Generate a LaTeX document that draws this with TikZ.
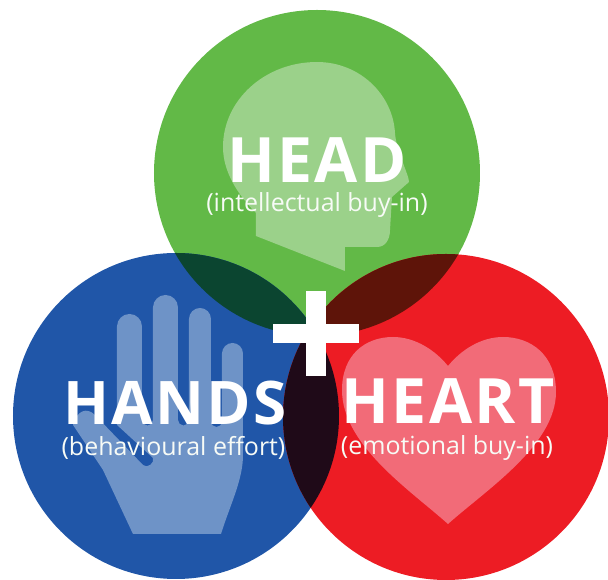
\documentclass[tikz,border=0pt]{standalone}
\usepackage{fontspec}
\setmainfont{Open Sans}
\newfontfamily\titlefont[LetterSpace=4.0]{Open Sans}
\usepackage{tikz}

\definecolor{headgreen}{HTML}{62B947}
\definecolor{handsblue}{HTML}{2056A8}
\definecolor{heartred}{HTML}{ED1C24}
\definecolor{greenblue}{HTML}{0B4530}
\definecolor{greenred}{HTML}{5E1409}
\definecolor{bluered}{HTML}{1F0A18}
\definecolor{headpale}{HTML}{9BD18A}
\definecolor{handspale}{HTML}{6E93C7}
\definecolor{heartpale}{HTML}{F26B78}

\tikzset{
    titletext/.style={text=white, inner sep=0pt, anchor=base, font=\titlefont\bfseries\fontsize{17.8}{20}\selectfont},
    subtext/.style={text=white!92!headpale, inner sep=0pt, anchor=base, font=\fontsize{7.1}{9}\selectfont}
}

\begin{document}
\begin{tikzpicture}
    \useasboundingbox (0, 0) rectangle (6.08, 5.80);

    \fill[headgreen] (3.17, 4.07) circle (1.63);
    \fill[handsblue] (1.76, 1.64) circle (1.63);
    \fill[heartred] (4.46, 1.63) circle (1.63);

    % overlaps
    \begin{scope}
        \clip (3.17, 4.07) circle (1.63);
        \fill[greenblue] (1.76, 1.64) circle (1.63);
        \fill[greenred] (4.46, 1.63) circle (1.63);
    \end{scope}
    \begin{scope}
        \clip (1.76, 1.64) circle (1.63);
        \fill[bluered] (4.46, 1.63) circle (1.63);
    \end{scope}

    % head
    \fill[headpale] (2.56, 3.44) -- (2.56, 3.67)
        .. controls (2.38, 3.85) and (2.23, 4.08) .. (2.23, 4.33)
        .. controls (2.23, 4.80) and (2.65, 5.18) .. (3.17, 5.18)
        .. controls (3.60, 5.18) and (3.93, 4.85) .. (3.95, 4.47)
        .. controls (3.96, 4.30) and (4.09, 4.05) .. (4.09, 3.98)
        -- (3.92, 3.83) -- (3.90, 3.50)
        .. controls (3.90, 3.40) and (3.85, 3.33) .. (3.77, 3.33)
        -- (3.45, 3.33) -- (3.45, 3.09) -- cycle;

    % hand
    \fill[handspale] (1.33, 0.46) -- (2.21, 0.46)
        .. controls (2.30, 0.75) and (2.43, 1.00) .. (2.43, 1.25)
        -- (2.43, 2.265) arc (0:180:0.105)
        -- (2.22, 1.585) arc (0:-180:0.055)
        -- (2.11, 2.61) arc (0:180:0.11)
        -- (1.89, 1.60) arc (0:-180:0.055)
        -- (1.78, 2.725) arc (0:180:0.125)
        -- (1.53, 1.60) arc (0:-180:0.055)
        -- (1.42, 2.535) arc (0:180:0.125)
        -- (1.17, 1.55) -- (1.53, 1.22)
        .. controls (1.55, 1.17) and (1.47, 1.11) .. (1.43, 1.15)
        -- (0.95, 1.65)
        .. controls (0.87, 1.73) and (0.77, 1.70) .. (0.73, 1.55)
        -- (1.03, 1.10) -- cycle;

    % heart
    \fill[heartpale] (4.48, 0.56)
        .. controls (4.10, 0.90) and (3.42, 1.35) .. (3.42, 1.90)
        .. controls (3.42, 2.25) and (3.65, 2.43) .. (3.93, 2.43)
        .. controls (4.15, 2.43) and (4.35, 2.30) .. (4.48, 2.14)
        .. controls (4.61, 2.30) and (4.81, 2.43) .. (5.03, 2.43)
        .. controls (5.31, 2.43) and (5.56, 2.25) .. (5.56, 1.88)
        .. controls (5.56, 1.35) and (4.86, 0.90) .. (4.48, 0.56) -- cycle;

    % plus
    \fill[white] (3.06, 2.04) rectangle (3.26, 2.89);
    \fill[white] (2.73, 2.37) rectangle (3.59, 2.56);

    \node[titletext] (head) at (3.17, 3.97) {HEAD};
    \node[subtext] (headsub) at (3.17, 3.68) {(intellectual buy-in)};
    \node[titletext, font=\titlefont\bfseries\fontsize{17.1}{20}\selectfont] (hands) at (1.75, 1.55) {HANDS};
    \node[subtext] (handssub) at (1.735, 1.24) {(behavioural effort)};
    \node[titletext] (heart) at (4.48, 1.56) {HEART};
    \node[subtext] (heartsub) at (4.47, 1.25) {(emotional buy-in)};
\end{tikzpicture}
\end{document}
